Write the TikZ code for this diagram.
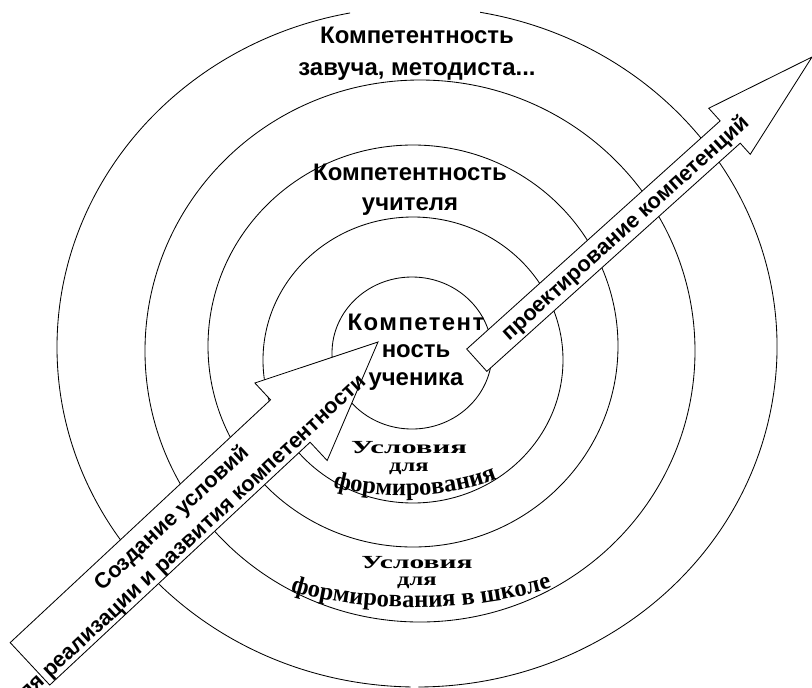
\documentclass[tikz,border=0pt]{standalone}
\usepackage{fontspec}
\setmainfont{Liberation Sans}
\newfontfamily\serifrm{Liberation Serif}
\usetikzlibrary{calc,decorations.text}

\begin{document}
\begin{tikzpicture}[x=0.025cm,y=-0.025cm,
    ring/.style={line width=0.6pt},
    arrowbox/.style={draw,line width=0.6pt,fill=white,line join=miter},
    arrowtext/.style={font=\bfseries\fontsize{15.5}{21}\selectfont,inner sep=0pt,transform shape},
    levellabel/.style={font=\bfseries\fontsize{17}{#1}\selectfont,inner sep=0pt,align=center},
    condlabel/.style={font=\serifrm\bfseries\fontsize{17.5}{16}\selectfont,inner sep=0pt,yscale=0.75},
    condarc/.style={decorate,decoration={text along path,text align=center,
      text={|\serifrm\bfseries\fontsize{17.5}{18}\selectfont|#1}}}]
  \useasboundingbox (0,0) rectangle (812,687);
  \clip (0,0) rectangle (812,687);
  % rings
  \foreach \cx/\cy/\rx/\ry in {412/353/80/76,413/360/150/143,413/346/205/201,420/351/275/271}
    \draw[ring] (\cx,\cy) ellipse [x radius=\rx, y radius=\ry];
  \coordinate (outer) at (417,347);
  \draw[ring] ($(outer)+(280.1:360 and 340)$) arc[start angle=280.1,end angle=449.8,x radius=360,y radius=340];
  \draw[ring] ($(outer)+(91:360 and 340)$) arc[start angle=91,end angle=259.3,x radius=360,y radius=340];
  % arrow into the centre
  \begin{scope}[shift={(378,342)},rotate=43]
    \draw[arrowbox] (0,0) -- (-118,-54) -- (-118,-31) -- (-474,-31) -- (-474,27) -- (-118,27) -- (-118,52) -- cycle;
    \node[arrowtext] (create) at (-271,-11) {Создание условий};
    \node[arrowtext] (develop) at (-276,19) {для реализации и развития компетентности};
  \end{scope}
  % arrow out of the centre
  \begin{scope}[shift={(812,57)},rotate=42]
    \draw[arrowbox] (0,0) -- (-111,-31) -- (-111,-14) -- (-452,-14) -- (-452,16) -- (-111,16) -- (-111,31) -- cycle;
    \node[arrowtext] (design) at (-253,3) {проектирование компетенций};
  \end{scope}
  % labels
  \node[levellabel=22.8pt] (head) at (417,54) {Компетентность\\завуча, методиста...};
  \node[levellabel=21.3pt] (teacher) at (410,190) {Компетентность\\учителя};
  \node[levellabel=19.6pt] (pupil) at (416,352) {{\addfontfeature{LetterSpace=6}Компетент}\\ность\\ученика};
  \node[condlabel,xscale=1.25] (cond1) at (409,448) {Условия};
  \node[condlabel] (cond1for) at (409,469) {для};
  \path[condarc=формирования] (330,486) .. controls (380,501) and (450,499) .. (500,478);
  \node[condlabel,xscale=1.2] (cond2) at (417,563) {Условия};
  \node[condlabel] (cond2for) at (417,583) {для};
  \path[condarc=формирования в школе] (294,592) .. controls (370,614) and (470,612) .. (548,589);
\end{tikzpicture}
\end{document}
